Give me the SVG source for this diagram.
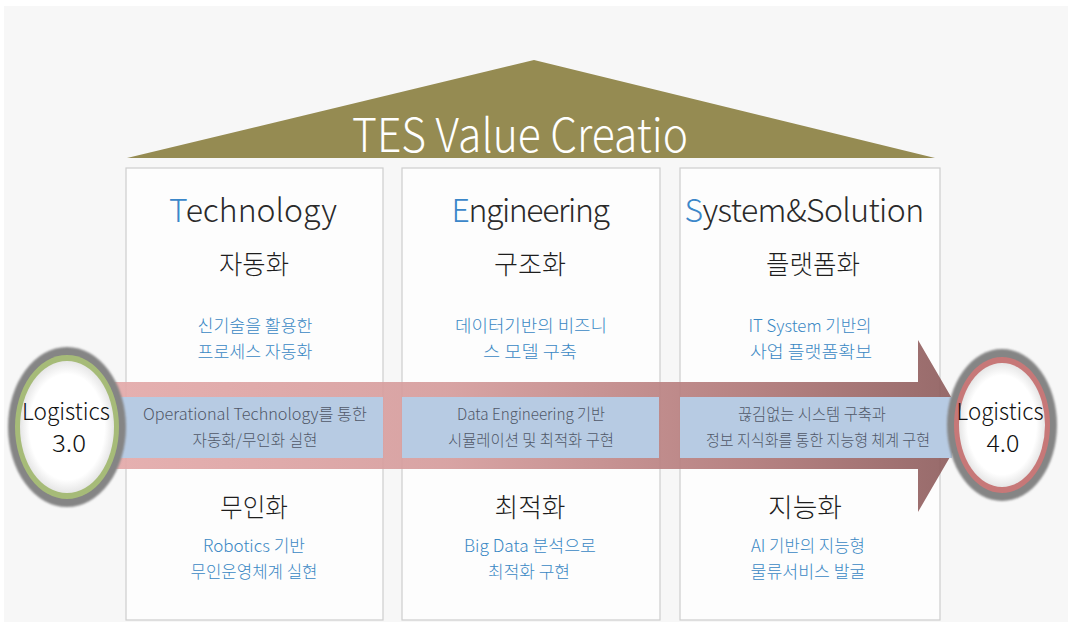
<svg xmlns="http://www.w3.org/2000/svg" width="1072" height="624" viewBox="0 0 1072 624">
  <defs>
    <style>
      .kr { font-family: "Noto Sans CJK KR", "Liberation Sans", sans-serif; font-weight: 300; }
      .head { font-size: 32px; fill: #2a2a2a; }
      .head .ini { fill: #3b87c9; }
      .title { font-size: 26px; fill: #1e1e1e; }
      .sub { font-size: 17px; fill: #3a88c4; }
      .band { font-size: 16px; fill: #505868; }
      .logi { font-size: 23px; fill: #111; }
      .col { fill: #fdfdfd; stroke: #cdcdcd; stroke-width: 1.2; }
      .box { fill: #b7cbe3; }
    </style>
    <linearGradient id="arrowFill" x1="0" y1="0" x2="1" y2="0">
      <stop offset="0" stop-color="#e4aaaa"/>
      <stop offset="0.4" stop-color="#d59c9c"/>
      <stop offset="0.75" stop-color="#b07878"/>
      <stop offset="1" stop-color="#8c5c5c"/>
    </linearGradient>
    <radialGradient id="discFill" cx="0.5" cy="0.5" r="0.5">
      <stop offset="0.8" stop-color="#ffffff"/>
      <stop offset="1" stop-color="#e6e6e6"/>
    </radialGradient>
    <filter id="soft" x="-10%" y="-10%" width="120%" height="120%">
      <feGaussianBlur stdDeviation="1.2"/>
    </filter>
  </defs>

  <!-- backdrop -->
  <rect x="0" y="0" width="1072" height="624" fill="#ffffff"/>
  <rect x="4" y="6" width="1064" height="616" fill="#f7f7f7"/>

  <!-- roof -->
  <g id="roof">
    <polygon points="127,158 534,60 935,158" fill="#958b52"/>
    <text class="kr" x="520" y="152" text-anchor="middle" font-size="46" fill="#ffffff" textLength="336" lengthAdjust="spacingAndGlyphs">TES Value Creatio</text>
  </g>

  <!-- pillars -->
  <g id="pillar-technology">
    <rect class="col" x="126" y="168" width="257" height="452"/>
  </g>
  <g id="pillar-engineering">
    <rect class="col" x="402" y="168" width="258" height="452"/>
  </g>
  <g id="pillar-system">
    <rect class="col" x="680" y="168" width="260" height="452"/>
  </g>

  <!-- progression arrow -->
  <g id="connectors">
    <polygon points="100,382 918,382 918,340 968,426 918,512 918,469 100,469" fill="url(#arrowFill)" opacity="0.92"/>
  </g>

  <!-- band boxes -->
  <g id="band-technology">
    <rect class="box" x="117" y="397" width="266" height="61"/>
    <text class="kr band" x="255" y="420" text-anchor="middle" textLength="224" lengthAdjust="spacingAndGlyphs">Operational Technology를 통한</text>
    <text class="kr band" x="255" y="446" text-anchor="middle" textLength="125" lengthAdjust="spacingAndGlyphs">자동화/무인화 실현</text>
  </g>
  <g id="band-engineering">
    <rect class="box" x="402" y="397" width="257" height="61"/>
    <text class="kr band" x="531" y="420" text-anchor="middle" textLength="148" lengthAdjust="spacingAndGlyphs">Data Engineering 기반</text>
    <text class="kr band" x="531" y="446" text-anchor="middle" textLength="166" lengthAdjust="spacingAndGlyphs">시뮬레이션 및 최적화 구현</text>
  </g>
  <g id="band-system">
    <rect class="box" x="680" y="397" width="272" height="61"/>
    <text class="kr band" x="812" y="420" text-anchor="middle" textLength="148" lengthAdjust="spacingAndGlyphs">끊김없는 시스템 구축과</text>
    <text class="kr band" x="818" y="446" text-anchor="middle" textLength="224" lengthAdjust="spacingAndGlyphs">정보 지식화를 통한 지능형 체계 구현</text>
  </g>

  <!-- pillar texts -->
  <g id="text-technology">
    <text class="kr head" x="253" y="222" text-anchor="middle"><tspan class="ini">T</tspan>echnology</text>
    <text class="kr title" x="254" y="274" text-anchor="middle" textLength="70" lengthAdjust="spacingAndGlyphs">자동화</text>
    <text class="kr sub" x="255" y="332" text-anchor="middle" textLength="115" lengthAdjust="spacingAndGlyphs">신기술을 활용한</text>
    <text class="kr sub" x="255" y="358" text-anchor="middle" textLength="115" lengthAdjust="spacingAndGlyphs">프로세스 자동화</text>
    <text class="kr title" x="254" y="517" text-anchor="middle" textLength="68" lengthAdjust="spacingAndGlyphs">무인화</text>
    <text class="kr sub" x="254" y="552" text-anchor="middle" textLength="102" lengthAdjust="spacingAndGlyphs">Robotics 기반</text>
    <text class="kr sub" x="254" y="578" text-anchor="middle" textLength="127" lengthAdjust="spacingAndGlyphs">무인운영체계 실현</text>
  </g>
  <g id="text-engineering">
    <text class="kr head" x="530" y="222" text-anchor="middle" letter-spacing="-1.4"><tspan class="ini">E</tspan>ngineering</text>
    <text class="kr title" x="530" y="274" text-anchor="middle" textLength="72" lengthAdjust="spacingAndGlyphs">구조화</text>
    <text class="kr sub" x="531" y="332" text-anchor="middle" textLength="152" lengthAdjust="spacingAndGlyphs">데이터기반의 비즈니</text>
    <text class="kr sub" x="530" y="358" text-anchor="middle" textLength="94" lengthAdjust="spacingAndGlyphs">스 모델 구축</text>
    <text class="kr title" x="530" y="517" text-anchor="middle" textLength="71" lengthAdjust="spacingAndGlyphs">최적화</text>
    <text class="kr sub" x="530" y="552" text-anchor="middle" textLength="132" lengthAdjust="spacingAndGlyphs">Big Data  분석으로</text>
    <text class="kr sub" x="529" y="578" text-anchor="middle" textLength="82" lengthAdjust="spacingAndGlyphs">최적화 구현</text>
  </g>
  <g id="text-system">
    <text class="kr head" x="804" y="222" text-anchor="middle" letter-spacing="-0.6"><tspan class="ini">S</tspan>ystem&amp;Solution</text>
    <text class="kr title" x="813" y="274" text-anchor="middle" textLength="94" lengthAdjust="spacingAndGlyphs">플랫폼화</text>
    <text class="kr sub" x="810" y="332" text-anchor="middle" textLength="123" lengthAdjust="spacingAndGlyphs">IT System 기반의</text>
    <text class="kr sub" x="811" y="358" text-anchor="middle" textLength="122" lengthAdjust="spacingAndGlyphs">사업 플랫폼확보</text>
    <text class="kr title" x="805" y="517" text-anchor="middle" textLength="74" lengthAdjust="spacingAndGlyphs">지능화</text>
    <text class="kr sub" x="808" y="552" text-anchor="middle" textLength="114" lengthAdjust="spacingAndGlyphs">AI 기반의 지능형</text>
    <text class="kr sub" x="808" y="578" text-anchor="middle" textLength="115" lengthAdjust="spacingAndGlyphs">물류서비스 발굴</text>
  </g>

  <!-- stage markers -->
  <g id="logistics-3">
    <ellipse cx="67" cy="427" rx="59" ry="80" fill="#858585" filter="url(#soft)"/>
    <ellipse cx="67" cy="427" rx="52" ry="72" fill="#a6bb78"/>
    <ellipse cx="67" cy="427" rx="47" ry="66" fill="url(#discFill)"/>
    <text class="kr logi" x="66" y="420" text-anchor="middle" textLength="88" lengthAdjust="spacingAndGlyphs">Logistics</text>
    <text class="kr logi" x="69" y="452" text-anchor="middle" textLength="34" lengthAdjust="spacingAndGlyphs">3.0</text>
  </g>
  <g id="logistics-4">
    <ellipse cx="1002" cy="425" rx="55" ry="76" fill="#858585" filter="url(#soft)"/>
    <ellipse cx="1002" cy="425" rx="48" ry="68" fill="#c77878"/>
    <ellipse cx="1002" cy="425" rx="43" ry="62" fill="url(#discFill)"/>
    <text class="kr logi" x="1000" y="420" text-anchor="middle" textLength="87" lengthAdjust="spacingAndGlyphs">Logistics</text>
    <text class="kr logi" x="1003" y="452" text-anchor="middle" textLength="33" lengthAdjust="spacingAndGlyphs">4.0</text>
  </g>
</svg>
